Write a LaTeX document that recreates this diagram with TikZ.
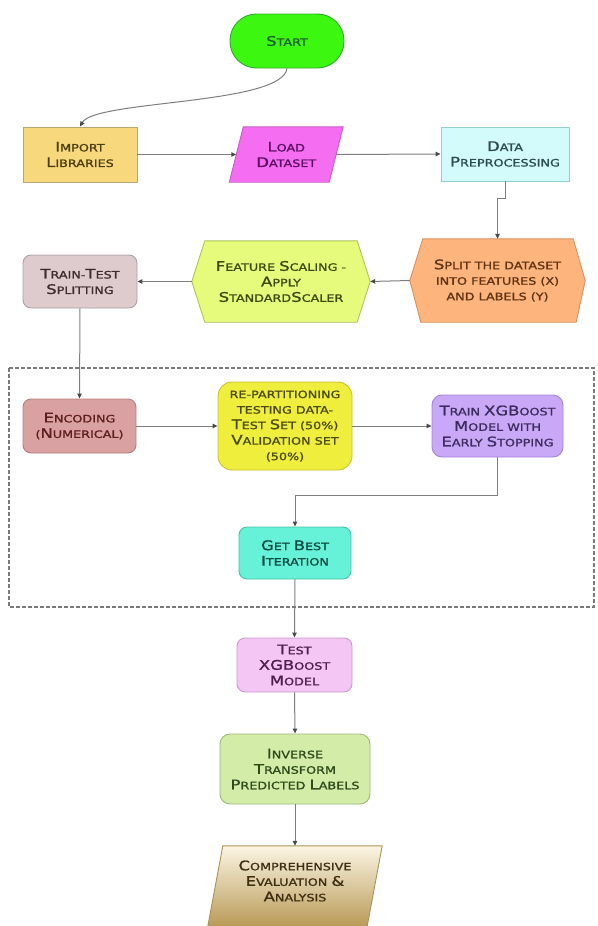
\documentclass[tikz,border=0pt]{standalone}
\usepackage{fontspec}
\setmainfont{DejaVu Sans}[FakeStretch=1.25,FakeBold=1.2]
\usetikzlibrary{arrows.meta,backgrounds}
\newcommand\C[1]{{\fontsize{13.2}{15}\selectfont #1}}
\definecolor{startfill}{HTML}{3CF70F}\definecolor{startdraw}{HTML}{2FA82F}\definecolor{starttext}{HTML}{1E5E2E}
\definecolor{impfill}{HTML}{F7D87C}\definecolor{impdraw}{HTML}{B9A873}\definecolor{imptext}{HTML}{4B3D12}
\definecolor{loadfill}{HTML}{F56EF2}\definecolor{loaddraw}{HTML}{C45CC4}\definecolor{loadtext}{HTML}{5B0F63}
\definecolor{datafill}{HTML}{D4FBFB}\definecolor{datadraw}{HTML}{93CFCF}\definecolor{datatext}{HTML}{2C4B4E}
\definecolor{splitfill}{HTML}{FDB47D}\definecolor{splitdraw}{HTML}{D99060}\definecolor{splittext}{HTML}{5E3414}
\definecolor{featfill}{HTML}{E6FA7C}\definecolor{featdraw}{HTML}{ABC45A}\definecolor{feattext}{HTML}{3C4A12}
\definecolor{ttfill}{HTML}{DDCBCD}\definecolor{ttdraw}{HTML}{ADA0A2}\definecolor{tttext}{HTML}{3E2C2E}
\definecolor{encfill}{HTML}{D9A1A1}\definecolor{encdraw}{HTML}{B57D7D}\definecolor{enctext}{HTML}{5E1E1E}
\definecolor{repfill}{HTML}{F0EE3C}\definecolor{repdraw}{HTML}{C8C030}\definecolor{reptext}{HTML}{4A4A12}
\definecolor{trainfill}{HTML}{C9A8F7}\definecolor{traindraw}{HTML}{A184D6}\definecolor{traintext}{HTML}{3C2C5E}
\definecolor{bestfill}{HTML}{66F2D8}\definecolor{bestdraw}{HTML}{45BFA5}\definecolor{besttext}{HTML}{0B4A40}
\definecolor{testfill}{HTML}{F3C6F3}\definecolor{testdraw}{HTML}{C99AC9}\definecolor{testtext}{HTML}{4E1E4E}
\definecolor{invfill}{HTML}{D3ECA8}\definecolor{invdraw}{HTML}{9CB878}\definecolor{invtext}{HTML}{2E4A1C}
\definecolor{comptop}{HTML}{FBF5E3}\definecolor{compbot}{HTML}{B99B58}\definecolor{compdraw}{HTML}{AA9258}\definecolor{comptext}{HTML}{3E2E12}
\definecolor{linec}{HTML}{7E7E7E}\definecolor{tipc}{HTML}{4A4A4A}\definecolor{dashc}{HTML}{7A7A7A}
\begin{document}
\begin{tikzpicture}[x=1pt,y=-1pt,
  txt/.style={align=center, inner sep=0pt, font=\fontsize{10.2}{15.5}\selectfont},
  box/.style={txt, draw, line width=0.9pt},
  conn/.style={draw=linec, line width=1pt, -{Triangle[length=5pt,width=4.5pt,color=tipc]}},
  shapeline/.style={line width=0.9pt},
  dashbox/.style={draw=dashc, line width=1.3pt, dash pattern=on 4pt off 2pt}]
\useasboundingbox (0,0) rectangle (597,926);
\draw[dashbox] (9,368) rectangle (594,607);

\node[box, fill=startfill, draw=startdraw, text=starttext, minimum width=114pt, minimum height=54pt, rounded corners=26.5pt] (start) at (287,41) {\C START};
\node[box, fill=impfill, draw=impdraw, text=imptext, minimum width=114pt, minimum height=55pt] (imp) at (80,154.5) {\C IMPORT\\\C LIBRARIES};
\node[txt, text=loadtext, minimum width=99.5pt, minimum height=55pt] (load) at (286.25,154.5) {\C LOAD\\\C DATASET};
\node[box, fill=datafill, draw=datadraw, text=datatext, minimum width=128pt, minimum height=54pt] (data) at (505,154) {\C DATA\\\C PREPROCESSING};
\node[txt, text=splittext, minimum width=175pt, minimum height=83pt] (split) at (497.5,280.5) {\C SPLIT THE DATASET\\INTO FEATURES (X)\\AND LABELS (Y)};
\node[txt, text=feattext, minimum width=178pt, minimum height=81pt] (feat) at (281,281.5) {\C FEATURE \C SCALING -\\\C APPLY\\\C STANDARD\C SCALER};
\node[box, fill=ttfill, draw=ttdraw, text=tttext, minimum width=114pt, minimum height=53pt, rounded corners=8pt] (tt) at (80,281.5) {\C TRAIN-\C TEST\\\C SPLITTING};
\node[box, fill=encfill, draw=encdraw, text=enctext, minimum width=113pt, minimum height=54pt, rounded corners=8pt] (enc) at (79.5,426) {\C ENCODING\\(\C NUMERICAL)};
\node[box, fill=repfill, draw=repdraw, text=reptext, minimum width=134pt, minimum height=88pt, rounded corners=14pt] (rep) at (285,426) {RE-PARTITIONING\\TESTING DATA-\\\C TEST \C SET (50\%)\\\C VALIDATION SET\\(50\%)};
\node[box, fill=trainfill, draw=traindraw, text=traintext, minimum width=131pt, minimum height=62pt, rounded corners=10pt] (train) at (497.5,426) {\C TRAIN \C X\C G\C BOOST\\\C MODEL WITH\\\C EARLY \C STOPPING};
\node[box, fill=bestfill, draw=bestdraw, text=besttext, minimum width=112pt, minimum height=52pt, rounded corners=8pt] (best) at (295,553) {\C GET \C BEST\\\C ITERATION};
\node[box, fill=testfill, draw=testdraw, text=testtext, minimum width=115pt, minimum height=54pt, rounded corners=8pt] (test) at (294.5,665) {\C TEST\\\C X\C G\C BOOST\\\C MODEL};
\node[box, fill=invfill, draw=invdraw, text=invtext, minimum width=150pt, minimum height=70pt, rounded corners=10pt] (inv) at (295,769) {\C INVERSE\\\C TRANSFORM\\\C PREDICTED \C LABELS};
\node[txt, text=comptext, minimum width=159pt, minimum height=70pt] (comp) at (295,881) {\C COMPREHENSIVE\\\C EVALUATION \C\&\\\C ANALYSIS};

\begin{scope}[on background layer]
\draw[shapeline, fill=loadfill, draw=loaddraw] ([xshift=-7pt]load.south west) -- ([xshift=7pt]load.north west) -- ([xshift=7pt]load.north east) -- ([xshift=-7pt]load.south east) -- cycle;
\draw[shapeline, fill=splitfill, draw=splitdraw] (split.west) -- ([xshift=13pt]split.north west) -- ([xshift=-12pt]split.north east) -- (split.east) -- ([xshift=-9pt]split.south east) -- ([xshift=11pt]split.south west) -- cycle;
\draw[shapeline, fill=featfill, draw=featdraw] (feat.west) -- ([xshift=13pt]feat.north west) -- ([xshift=-13pt]feat.north east) -- (feat.east) -- ([xshift=-13pt]feat.south east) -- ([xshift=13pt]feat.south west) -- cycle;
\shade[top color=comptop, bottom color=compbot] ([xshift=7.5pt]comp.north west) -- ([xshift=7.5pt]comp.north east) -- ([xshift=-7.5pt,yshift=-10pt]comp.south east) -- ([xshift=-7.5pt,yshift=-10pt]comp.south west) -- cycle;
\draw[shapeline, draw=compdraw] ([xshift=7.5pt]comp.north west) -- ([xshift=7.5pt]comp.north east) -- ([xshift=-7.5pt,yshift=-10pt]comp.south east) -- ([xshift=-7.5pt,yshift=-10pt]comp.south west) -- cycle;
\end{scope}

\draw[conn] (start.south) .. controls (282,105) and (95,100) .. (imp.north);
\draw[conn] (imp.east) -- (load.west);
\draw[conn] (load.east) -- (data.west);
\draw[conn] (data.south) -- ++(0,17) -| (split.north);
\draw[conn] (split.west) -- (feat.east);
\draw[conn] (feat.west) -- (tt.east);
\draw[conn] (tt.south) -- (enc.north);
\draw[conn] (enc.east) -- (rep.west);
\draw[conn] (rep.east) -- (train.west);
\draw[conn] (train.south) -- ++(0,38) -| (best.north);
\draw[conn] (best.south) -- (test.north);
\draw[conn] (test.south) -- (inv.north);
\draw[conn] (inv.south) -- (comp.north);
\end{tikzpicture}
\end{document}
